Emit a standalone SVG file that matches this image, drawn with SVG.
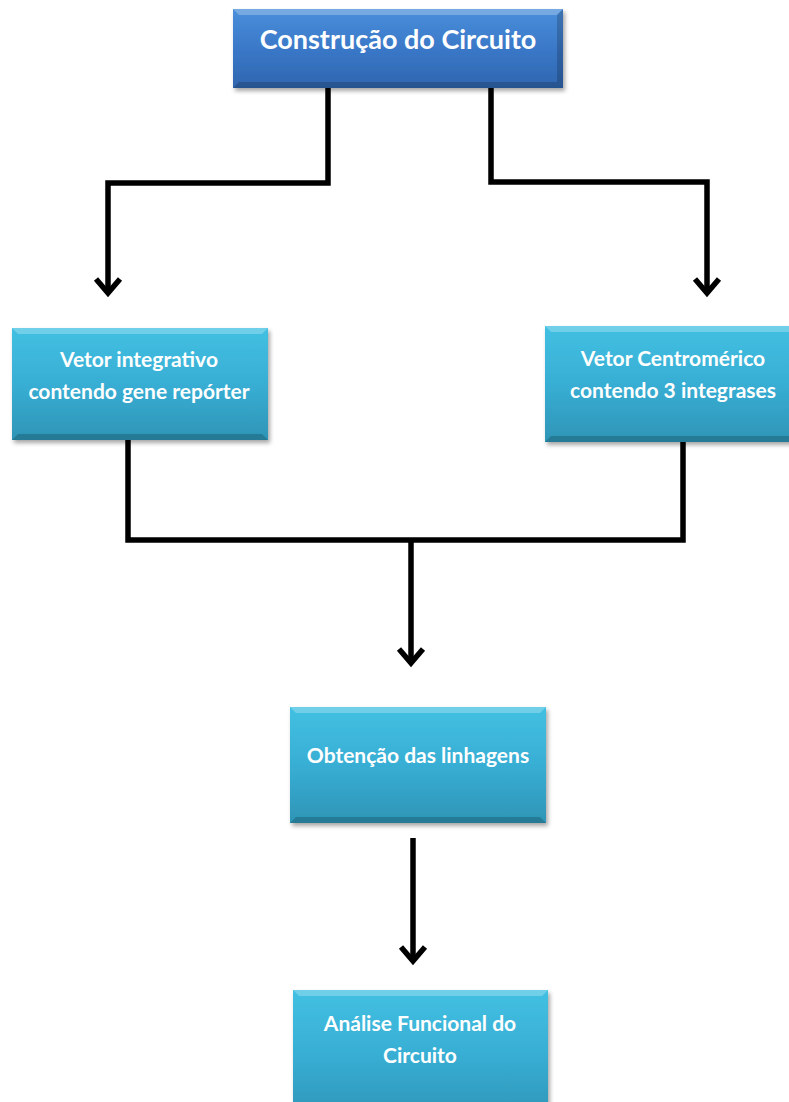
<svg xmlns="http://www.w3.org/2000/svg" width="789" height="1102" viewBox="0 0 789 1102">
  <defs>
    <linearGradient id="gBlue" x1="0" y1="0" x2="0" y2="1">
      <stop offset="0" stop-color="#4A8FDB"/>
      <stop offset="0.5" stop-color="#3A78C8"/>
      <stop offset="1" stop-color="#2F66AF"/>
    </linearGradient>
    <linearGradient id="gTeal" x1="0" y1="0" x2="0" y2="1">
      <stop offset="0" stop-color="#42C0E2"/>
      <stop offset="0.5" stop-color="#38AED4"/>
      <stop offset="1" stop-color="#2E95B6"/>
    </linearGradient>
    <filter id="sh" x="-10%" y="-10%" width="120%" height="130%">
      <feDropShadow dx="2" dy="3" stdDeviation="2" flood-color="#000" flood-opacity="0.35"/>
    </filter>
    <marker id="arr" markerUnits="userSpaceOnUse" markerWidth="40" markerHeight="40" viewBox="-20 -20 40 40" refX="0" refY="0" orient="auto" overflow="visible">
      <path d="M-14,-12 L0,0 L-14,12" fill="none" stroke="#000" stroke-width="5.5" stroke-linejoin="miter" stroke-miterlimit="10"/>
    </marker>
  </defs>
  <style>
    .lbl { font-family: "Lato", "Open Sans", "Liberation Sans", sans-serif; font-weight: bold; fill: #ffffff; text-anchor: middle; }
    .big { font-size: 27px; }
    .sm { font-size: 21px; }
    .conn { fill: none; stroke: #000; stroke-width: 5.5; stroke-linejoin: miter; }
    .hi { fill: #ffffff; opacity: 0.25; }
    .lo { fill: #000000; opacity: 0.18; }
  </style>
  <rect width="789" height="1102" fill="#ffffff"/>

  <g id="connectors">
    <path class="conn" d="M328,88 V183 H108 V293" marker-end="url(#arr)"/>
    <path class="conn" d="M491,88 V182 H707 V293" marker-end="url(#arr)"/>
    <path class="conn" d="M128,440 V540 H683 V442"/>
    <path class="conn" d="M411,540 V663" marker-end="url(#arr)"/>
    <path class="conn" d="M413,838 V961" marker-end="url(#arr)"/>
  </g>

  <g id="node-construcao">
    <rect x="233" y="9" width="330" height="79" fill="url(#gBlue)" filter="url(#sh)"/>
    <polygon class="hi" points="233,9 563,9 557,15 239,15"/>
    <polygon class="lo" points="233,88 563,88 557,82 239,82"/>
    <polygon class="lo" points="563,9 563,88 557,82 557,15" opacity="0.1"/>
    <text class="lbl big" x="398" y="49">Construção do Circuito</text>
  </g>

  <g id="node-vetor-integrativo">
    <rect x="12" y="328" width="256" height="112" fill="url(#gTeal)" filter="url(#sh)"/>
    <polygon class="hi" points="12,328 268,328 262,334 18,334"/>
    <polygon class="lo" points="12,440 268,440 262,434 18,434"/>
    <text class="lbl sm" x="139" y="367">Vetor integrativo</text>
    <text class="lbl sm" x="139" y="399">contendo gene repórter</text>
  </g>

  <g id="node-vetor-centromerico">
    <rect x="545" y="326" width="256" height="116" fill="url(#gTeal)" filter="url(#sh)"/>
    <polygon class="hi" points="545,326 801,326 795,332 551,332"/>
    <polygon class="lo" points="545,442 801,442 795,436 551,436"/>
    <text class="lbl sm" x="673" y="366">Vetor Centromérico</text>
    <text class="lbl sm" x="673" y="398">contendo 3 integrases</text>
  </g>

  <g id="node-obtencao">
    <rect x="290" y="707" width="256" height="116" fill="url(#gTeal)" filter="url(#sh)"/>
    <polygon class="hi" points="290,707 546,707 540,713 296,713"/>
    <polygon class="lo" points="290,823 546,823 540,817 296,817"/>
    <text class="lbl sm" x="418" y="763">Obtenção das linhagens</text>
  </g>

  <g id="node-analise">
    <rect x="293" y="990" width="255" height="130" fill="url(#gTeal)" filter="url(#sh)"/>
    <polygon class="hi" points="293,990 548,990 542,996 299,996"/>
    <text class="lbl sm" x="420" y="1031">Análise Funcional do</text>
    <text class="lbl sm" x="420" y="1063">Circuito</text>
  </g>
</svg>
